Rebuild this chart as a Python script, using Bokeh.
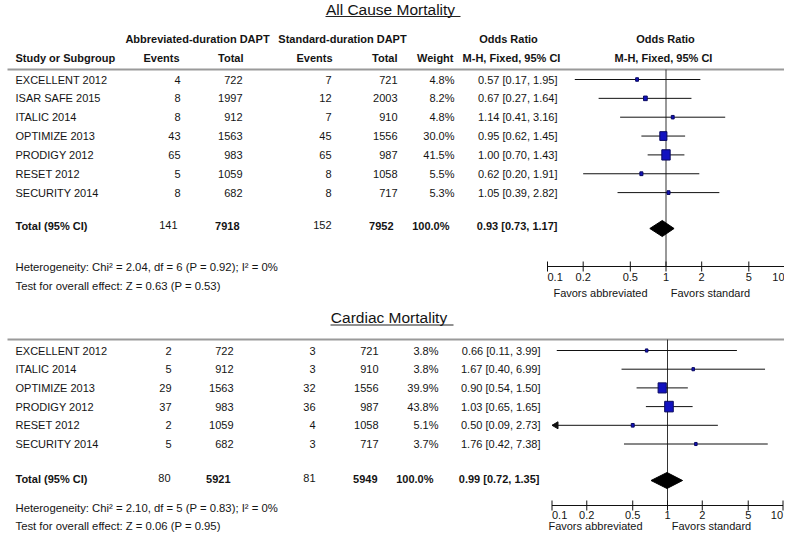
import math
from bokeh.plotting import figure
from bokeh.models import Range1d, LogScale, ColumnDataSource
from bokeh.core.properties import value
from bokeh.embed import file_html
from bokeh.resources import INLINE

# ---------------- data ----------------
title_1 = "All Cause Mortality"
studies_1 = ["EXCELLENT  2012", "ISAR SAFE 2015", "ITALIC  2014", "OPTIMIZE  2013",
             "PRODIGY  2012", "RESET 2012", "SECURITY  2014"]
abbr_events_1 = [4, 8, 8, 43, 65, 5, 8]
abbr_total_1 = [722, 1997, 912, 1563, 983, 1059, 682]
std_events_1 = [7, 12, 7, 45, 65, 8, 8]
std_total_1 = [721, 2003, 910, 1556, 987, 1058, 717]
weight_1 = [4.8, 8.2, 4.8, 30.0, 41.5, 5.5, 5.3]
odds_1 = [0.57, 0.67, 1.14, 0.95, 1.00, 0.62, 1.05]
ci_low_1 = [0.17, 0.27, 0.41, 0.62, 0.70, 0.20, 0.39]
ci_high_1 = [1.95, 1.64, 3.16, 1.45, 1.43, 1.91, 2.82]
total_counts_1 = [141, 7918, 152, 7952]
total_weight_1 = 100.0
pooled_1 = [0.93, 0.73, 1.17]
heterogeneity_1 = "Heterogeneity: Chi² = 2.04, df = 6 (P = 0.92); I² = 0%"
overall_1 = "Test for overall effect: Z = 0.63 (P = 0.53)"

title_2 = "Cardiac Mortality"
studies_2 = ["EXCELLENT  2012", "ITALIC  2014", "OPTIMIZE  2013", "PRODIGY  2012",
             "RESET 2012", "SECURITY  2014"]
abbr_events_2 = [2, 5, 29, 37, 2, 5]
abbr_total_2 = [722, 912, 1563, 983, 1059, 682]
std_events_2 = [3, 3, 32, 36, 4, 3]
std_total_2 = [721, 910, 1556, 987, 1058, 717]
weight_2 = [3.8, 3.8, 39.9, 43.8, 5.1, 3.7]
odds_2 = [0.66, 1.67, 0.90, 1.03, 0.50, 1.76]
ci_low_2 = [0.11, 0.40, 0.54, 0.65, 0.09, 0.42]
ci_high_2 = [3.99, 6.99, 1.50, 1.65, 2.73, 7.38]
total_counts_2 = [80, 5921, 81, 5949]
total_weight_2 = 100.0
pooled_2 = [0.99, 0.72, 1.35]
heterogeneity_2 = "Heterogeneity: Chi² = 2.10, df = 5 (P = 0.83); I² = 0%"
overall_2 = "Test for overall effect: Z = 0.06 (P = 0.95)"

group_headers = ["Abbreviated-duration DAPT", "Standard-duration DAPT"]
column_headers = ["Study or Subgroup", "Events", "Total", "Events", "Total", "Weight"]
or_header = ["Odds Ratio", "M-H, Fixed, 95% CI"]
total_label = "Total (95%  CI)"
or_ticks = [0.1, 0.2, 0.5, 1, 2, 5, 10]
or_tick_labels = ["0.1", "0.2", "0.5", "1", "2", "5", "10"]
favors_labels = ["Favors abbreviated", "Favors standard"]

# ---------------- styling / layout ----------------
FONT = value("Liberation Sans")
TXT = "#141414"
W, H = 784, 533    # data units == picture pixels

p = figure(width=W, height=H, output_backend="svg", toolbar_location=None,
           x_range=Range1d(0, W), y_range=Range1d(H, 0),
           x_axis_type=None, y_axis_type=None, min_border=0)
p.outline_line_color = None
p.background_fill_color = "white"
p.border_fill_color = "white"

L1 = dict(rn="or1", c=665.5, ppd=118.5,
          title_x=390, title_y=9, ul=(325, 460), ul_y=16,
          rule=69, row0=79, dy=18.85, tot_y=225.5, dia_y=228,
          axis=266, lab=276.5, fav=292, het=266.7, ovr=285.7,
          cols=[180, 242, 331, 397, 454, 557], tcols=[177, 239, 331, 393, 449, 557],
          fav_x=[600, 710])
L2 = dict(rn="or2", c=667.0, ppd=115.5,
          title_x=388.5, title_y=317.3, ul=(330, 453), ul_y=324.5,
          rule=339, row0=350, dy=18.7, tot_y=478, dia_y=480,
          axis=505, lab=514, fav=525, het=507, ovr=525,
          cols=[171, 233, 315, 378, 438, 540], tcols=[170, 230, 315, 377, 433, 539],
          fav_x=[595, 711])

p.extra_x_ranges = {
    L["rn"]: Range1d(10 ** ((0 - L["c"]) / L["ppd"]), 10 ** ((W - L["c"]) / L["ppd"]))
    for L in (L1, L2)
}
p.extra_x_scales = {L["rn"]: LogScale() for L in (L1, L2)}


def txt(xs, ys, texts, align="left", size="11px", style="normal", rn="default"):
    src = ColumnDataSource(dict(x=list(xs), y=list(ys), text=list(texts)))
    p.text(x="x", y="y", text="text", source=src, text_align=align,
           text_baseline="middle", text_font=FONT, text_font_size=size,
           text_font_style=style, text_color=TXT, x_range_name=rn)


def seg(x0, y0, x1, y1, rn="default", color="#111111", width=1):
    p.segment(x0=list(x0), y0=list(y0), x1=list(x1), y1=list(y1), x_range_name=rn,
              line_color=color, line_width=width)


def panel(L, title, studies, ae, at, se, st, wt, orv, lo, hi, tcounts, tweight, pooled, het, ovr):
    rn = L["rn"]
    n = len(studies)
    ys = [L["row0"] + i * L["dy"] for i in range(n)]
    # title
    txt([L["title_x"]], [L["title_y"]], [title], "center", "15.5px")
    seg([L["ul"][0]], [L["ul_y"]], [L["ul"][1]], [L["ul_y"]], color="#222222")
    # header rule
    seg([7], [L["rule"]], [W], [L["rule"]], color="#9a9a9a", width=2)
    # table
    c = L["cols"]
    txt([15] * n, ys, studies)
    txt([c[0]] * n, ys, [str(v) for v in ae], "right")
    txt([c[1]] * n, ys, [str(v) for v in at], "right")
    txt([c[2]] * n, ys, [str(v) for v in se], "right")
    txt([c[3]] * n, ys, [str(v) for v in st], "right")
    txt([c[4]] * n, ys, [f"{w:.1f}%" for w in wt], "right")
    txt([c[5]] * n, ys, [f"{o:.2f} [{a:.2f}, {b:.2f}]" for o, a, b in zip(orv, lo, hi)], "right")
    # totals row
    tc = L["tcols"]
    ty = L["tot_y"]
    txt([15], [ty], [total_label], style="bold")
    txt([tc[0], tc[2]], [ty - 1, ty - 1], [str(tcounts[0]), str(tcounts[2])], "right")
    txt([tc[1], tc[3]], [ty, ty], [str(tcounts[1]), str(tcounts[3])], "right", style="bold")
    txt([tc[4]], [ty], [f"{tweight:.1f}%"], "right", style="bold")
    txt([tc[5]], [ty], [f"{pooled[0]:.2f} [{pooled[1]:.2f}, {pooled[2]:.2f}]"], "right", style="bold")
    # heterogeneity notes
    txt([15, 15], [L["het"], L["ovr"]], [het, ovr], size="11.3px")
    # forest: vertical line of no effect
    seg([1], [L["rule"]], [1], [L["axis"]], rn=rn, color="#333333")
    # CI whiskers (clipped to axis range)
    x0 = [max(a, or_ticks[0]) for a in lo]
    x1 = [min(b, or_ticks[-1]) for b in hi]
    seg(x0, ys, x1, ys, rn=rn)
    # arrows for clipped lower limits
    k = 10 ** (6.0 / L["ppd"])
    for a, y in zip(lo, ys):
        if a < or_ticks[0]:
            p.patch(x=[or_ticks[0], or_ticks[0] * k, or_ticks[0] * k], y=[y, y - 3.5, y + 3.5],
                    x_range_name=rn, fill_color="#111111", line_color="#111111")
    # weighted boxes
    src = ColumnDataSource(dict(x=orv, y=ys,
                                w=[1.3 * math.sqrt(v) for v in wt],
                                h=[1.6 * math.sqrt(v) for v in wt]))
    p.rect(x="x", y="y", width="w", height="h", width_units="screen", height_units="screen",
           source=src, x_range_name=rn, fill_color="#1212c0", line_color="#0a0a60", line_width=1)
    # pooled diamond
    yd = L["dia_y"]
    p.patch(x=[pooled[1], pooled[0], pooled[2], pooled[0]], y=[yd, yd - 8, yd, yd + 8],
            x_range_name=rn, fill_color="black", line_color="black")
    # axis
    ay = L["axis"]
    seg([or_ticks[0]], [ay], [or_ticks[-1]], [ay], rn=rn)
    seg(or_ticks, [ay - 5] * len(or_ticks), or_ticks, [ay + 5] * len(or_ticks), rn=rn)
    for t, lab, al in zip(or_ticks, or_tick_labels,
                          ["left"] + ["center"] * (len(or_ticks) - 2) + ["right"]):
        txt([t], [L["lab"]], [lab], al, rn=rn)
    txt(L["fav_x"], [L["fav"]] * 2, favors_labels, "center")


# column headers (first panel only)
txt([197, 342], [38, 38], group_headers, "center", style="bold")
txt([508, 665], [38, 38], [or_header[0]] * 2, "center", style="bold")
txt([15], [57], [column_headers[0]], style="bold")
txt([179, 243, 332, 397, 453], [57] * 5, column_headers[1:], "right", style="bold")
txt([511, 663], [57, 57], [or_header[1]] * 2, "center", style="bold")

panel(L1, title_1, studies_1, abbr_events_1, abbr_total_1, std_events_1, std_total_1, weight_1,
      odds_1, ci_low_1, ci_high_1, total_counts_1, total_weight_1, pooled_1,
      heterogeneity_1, overall_1)
panel(L2, title_2, studies_2, abbr_events_2, abbr_total_2, std_events_2, std_total_2, weight_2,
      odds_2, ci_low_2, ci_high_2, total_counts_2, total_weight_2, pooled_2,
      heterogeneity_2, overall_2)

open("out.html", "w").write(file_html(p, INLINE))
